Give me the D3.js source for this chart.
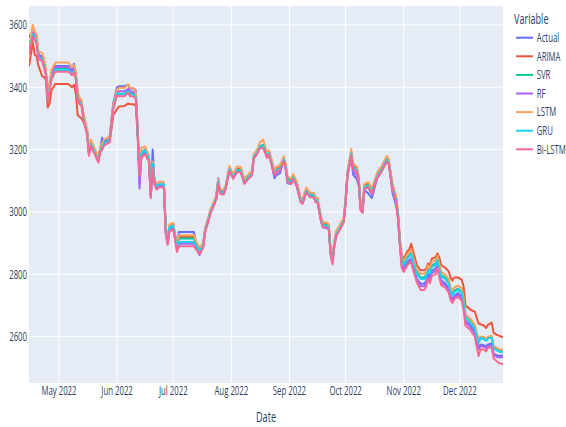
<!DOCTYPE html>
<html>
<head>
<meta charset="utf-8">
<script src="https://cdn.jsdelivr.net/npm/d3@7"></script>
<style>
  body { margin: 0; background: #fff; }
  svg { display: block; }
  text { font-family: "Open Sans", sans-serif; fill: #2a3f5f; }
</style>
</head>
<body>
<svg id="chart" width="566" height="427"></svg>
<script>
// Trading dates (one row per chunk = roughly one month)
const dates = [
  "2022-04-15","2022-04-17","2022-04-18","2022-04-19","2022-04-20","2022-04-22","2022-04-23","2022-04-24","2022-04-25","2022-04-26","2022-04-27","2022-04-29",
  "2022-05-06","2022-05-08","2022-05-09","2022-05-10","2022-05-11","2022-05-12","2022-05-13","2022-05-14","2022-05-16","2022-05-17","2022-05-18","2022-05-20","2022-05-22","2022-05-23","2022-05-24","2022-05-25","2022-05-26","2022-05-28","2022-05-29","2022-05-30",
  "2022-06-01","2022-06-02","2022-06-05","2022-06-07","2022-06-08","2022-06-10","2022-06-11","2022-06-12","2022-06-13","2022-06-14","2022-06-16","2022-06-18","2022-06-19","2022-06-20","2022-06-21","2022-06-22","2022-06-24","2022-06-26","2022-06-27","2022-06-28","2022-06-29","2022-07-01","2022-07-03",
  "2022-07-04","2022-07-12","2022-07-13","2022-07-15","2022-07-17","2022-07-18","2022-07-20","2022-07-21","2022-07-22","2022-07-24","2022-07-25","2022-07-26","2022-07-28","2022-07-29","2022-07-31",
  "2022-08-02","2022-08-04","2022-08-06","2022-08-08","2022-08-10","2022-08-12","2022-08-13","2022-08-15","2022-08-16","2022-08-18","2022-08-20","2022-08-21","2022-08-22","2022-08-24","2022-08-25","2022-08-27","2022-08-29","2022-08-30","2022-08-31",
  "2022-09-02","2022-09-03","2022-09-05","2022-09-07","2022-09-08","2022-09-10","2022-09-12","2022-09-14","2022-09-15","2022-09-16","2022-09-18","2022-09-19","2022-09-21","2022-09-22","2022-09-23","2022-09-24","2022-09-25","2022-09-26","2022-09-28","2022-09-30",
  "2022-10-01","2022-10-02","2022-10-04","2022-10-05","2022-10-07","2022-10-08","2022-10-09","2022-10-10","2022-10-11","2022-10-13","2022-10-15","2022-10-17","2022-10-18","2022-10-20","2022-10-22","2022-10-23","2022-10-24","2022-10-26","2022-10-28","2022-10-29","2022-10-30","2022-10-31",
  "2022-11-01","2022-11-03","2022-11-04","2022-11-05","2022-11-06","2022-11-08","2022-11-10","2022-11-12","2022-11-13","2022-11-14","2022-11-15","2022-11-16","2022-11-18","2022-11-19","2022-11-20","2022-11-21","2022-11-23","2022-11-25","2022-11-26","2022-11-27","2022-11-28","2022-11-30",
  "2022-12-02","2022-12-03","2022-12-04","2022-12-06","2022-12-07","2022-12-09","2022-12-10","2022-12-11","2022-12-12","2022-12-14","2022-12-15","2022-12-16","2022-12-18","2022-12-19","2022-12-21","2022-12-22","2022-12-24"
];

const actual = [
  3560,3578,3565,3556,3505,3498,3478,3452,3370,3410,3445,3468,
  3468,3452,3475,3440,3375,3358,3352,3310,3258,3192,3225,3198,3165,3200,3238,3225,3228,3234,3295,3350,
  3400,3403,3403,3408,3396,3396,3390,3260,3090,3190,3200,3170,3050,3200,3095,3078,3085,3082,2935,2900,2945,2950,2880,
  2936,2936,2905,2870,2892,2940,2982,3005,3015,3050,3108,3062,3058,3078,3142,
  3110,3128,3128,3093,3110,3122,3178,3195,3210,3215,3180,3190,3170,3108,3118,3125,3170,3140,3092,
  3090,3108,3082,3032,3028,3066,3050,3050,3033,3032,2968,2950,2948,2945,2868,2845,2895,2928,2948,2970,
  3040,3130,3185,3120,3105,3085,3010,3000,3070,3060,3045,3090,3110,3128,3155,3170,3160,3062,3020,2980,2895,2830,
  2818,2840,2845,2850,2825,2785,2770,2770,2778,2800,2790,2812,2818,2835,2805,2780,2772,2755,2730,2720,2732,2740,
  2730,2700,2650,2640,2632,2615,2585,2565,2575,2572,2568,2575,2578,2545,2540,2538,2540
];

const arima = [
  3468,3545,3505,3500,3470,3436,3432,3425,3335,3348,3390,3410,
  3410,3400,3408,3380,3310,3305,3300,3290,3262,3200,3215,3192,3170,3195,3205,3215,3220,3225,3265,3310,
  3330,3338,3340,3348,3345,3345,3340,3250,3120,3180,3190,3175,3070,3140,3100,3085,3090,3088,2950,2912,2955,2958,2890,
  2920,2920,2905,2880,2900,2945,2985,3008,3018,3048,3095,3068,3068,3082,3138,
  3116,3138,3138,3100,3115,3126,3178,3195,3210,3213,3183,3190,3172,3128,3138,3142,3168,3148,3106,
  3100,3116,3090,3042,3036,3072,3056,3056,3040,3040,2978,2962,2962,2955,2880,2855,2903,2935,2956,2978,
  3035,3115,3180,3150,3140,3108,3020,3010,3085,3090,3070,3108,3124,3140,3162,3172,3165,3085,3045,2992,2910,2860,
  2850,2875,2880,2898,2875,2830,2813,2813,2818,2835,2830,2850,2855,2867,2855,2830,2822,2810,2790,2780,2790,2790,
  2782,2760,2700,2690,2685,2680,2660,2642,2640,2635,2628,2638,2645,2612,2605,2603,2598
];

const svr = [
  3522,3572,3562,3552,3500,3495,3473,3448,3365,3400,3436,3460,
  3460,3448,3458,3436,3371,3355,3351,3307,3254,3190,3222,3195,3167,3199,3210,3222,3226,3232,3287,3339,
  3382,3380,3378,3392,3380,3378,3370,3260,3125,3185,3195,3170,3055,3150,3095,3080,3088,3085,2940,2905,2950,2955,2885,
  2915,2915,2900,2875,2895,2942,2984,3006,3017,3049,3100,3065,3065,3081,3140,
  3113,3135,3135,3097,3113,3124,3178,3195,3210,3215,3180,3190,3170,3124,3135,3140,3170,3146,3103,
  3097,3113,3087,3038,3033,3070,3054,3054,3038,3038,2974,2958,2958,2952,2872,2845,2899,2931,2952,2974,
  3038,3124,3190,3146,3135,3103,3017,3006,3081,3087,3065,3103,3119,3135,3158,3170,3160,3080,3040,2985,2899,2845,
  2834,2856,2861,2872,2845,2807,2790,2790,2797,2818,2807,2829,2834,2850,2823,2797,2791,2775,2748,2738,2748,2754,
  2745,2715,2665,2652,2645,2630,2605,2585,2595,2592,2588,2595,2598,2565,2558,2555,2555
];

const rf = [
  3530,3575,3563,3554,3502,3496,3476,3450,3368,3404,3440,3465,
  3465,3450,3460,3438,3373,3357,3352,3308,3255,3188,3220,3193,3163,3196,3208,3220,3224,3230,3285,3338,
  3388,3387,3387,3395,3387,3385,3378,3255,3075,3182,3192,3165,3048,3145,3090,3075,3083,3080,2932,2898,2942,2948,2878,
  2898,2898,2888,2862,2888,2938,2980,3002,3013,3045,3098,3060,3058,3076,3135,
  3108,3130,3130,3092,3108,3120,3173,3190,3205,3210,3176,3186,3165,3115,3128,3133,3165,3140,3097,
  3092,3108,3082,3033,3028,3065,3050,3050,3033,3033,2970,2953,2953,2947,2866,2840,2894,2926,2947,2969,
  3034,3120,3180,3130,3118,3092,3005,2998,3075,3078,3058,3097,3113,3130,3153,3165,3155,3075,3030,2978,2892,2825,
  2812,2835,2840,2845,2820,2780,2762,2762,2770,2792,2782,2805,2810,2828,2800,2772,2765,2750,2725,2715,2727,2735,
  2725,2695,2645,2635,2628,2610,2580,2560,2570,2568,2563,2570,2572,2540,2535,2533,2535
];

const lstm = [
  3525,3600,3580,3570,3515,3510,3490,3462,3375,3415,3455,3479,
  3479,3465,3470,3450,3385,3365,3360,3318,3265,3205,3232,3205,3175,3208,3220,3232,3236,3242,3295,3345,
  3392,3398,3398,3410,3398,3395,3385,3270,3140,3205,3210,3180,3065,3162,3105,3090,3098,3095,2950,2915,2960,2965,2895,
  2925,2925,2908,2885,2902,2948,2990,3012,3023,3055,3105,3072,3072,3088,3148,
  3120,3145,3145,3105,3120,3132,3185,3203,3222,3232,3190,3198,3180,3132,3145,3150,3178,3155,3112,
  3106,3122,3096,3046,3042,3078,3062,3062,3046,3046,2982,2966,2966,2960,2880,2855,2908,2940,2960,2982,
  3045,3132,3202,3155,3145,3112,3025,3015,3090,3096,3075,3112,3128,3145,3168,3180,3170,3090,3050,2995,2908,2855,
  2842,2865,2870,2880,2855,2815,2802,2802,2808,2828,2818,2840,2845,2860,2835,2808,2800,2785,2758,2748,2758,2764,
  2755,2725,2672,2660,2655,2638,2612,2592,2600,2598,2594,2600,2603,2570,2563,2560,2558
];

const gru = [
  3515,3568,3558,3548,3496,3490,3468,3443,3360,3395,3430,3455,
  3455,3443,3452,3430,3366,3350,3346,3303,3250,3185,3218,3190,3162,3195,3205,3218,3222,3228,3282,3334,
  3380,3377,3377,3388,3377,3376,3368,3258,3120,3188,3198,3172,3058,3155,3098,3082,3090,3088,2942,2908,2952,2956,2888,
  2904,2904,2895,2873,2893,2940,2982,3004,3015,3047,3098,3063,3062,3079,3138,
  3111,3133,3133,3095,3111,3122,3176,3193,3208,3213,3178,3188,3168,3122,3133,3138,3168,3144,3101,
  3095,3111,3085,3036,3031,3068,3052,3052,3036,3036,2972,2956,2956,2950,2870,2843,2897,2929,2950,2972,
  3036,3122,3188,3144,3133,3101,3015,3004,3079,3085,3063,3101,3117,3133,3156,3168,3158,3078,3038,2983,2897,2842,
  2830,2852,2857,2866,2840,2802,2785,2785,2792,2813,2802,2824,2829,2845,2818,2792,2786,2770,2744,2734,2744,2750,
  2742,2712,2662,2650,2642,2626,2600,2580,2597,2592,2587,2595,2597,2562,2555,2552,2550
];

const biLstm = [
  3505,3562,3552,3542,3490,3485,3462,3438,3355,3390,3425,3450,
  3450,3438,3448,3425,3360,3345,3342,3298,3245,3180,3212,3186,3158,3190,3200,3212,3217,3223,3278,3330,
  3374,3371,3371,3382,3371,3370,3362,3250,3115,3175,3185,3162,3045,3140,3088,3072,3080,3078,2930,2895,2938,2945,2872,
  2890,2890,2882,2865,2885,2934,2976,2998,3010,3042,3092,3058,3056,3074,3132,
  3106,3128,3128,3090,3106,3117,3171,3188,3203,3206,3173,3183,3163,3117,3128,3133,3163,3139,3096,
  3090,3106,3080,3031,3026,3063,3047,3047,3031,3031,2966,2950,2950,2944,2862,2832,2890,2922,2944,2966,
  3030,3116,3182,3138,3128,3096,3008,2998,3074,3080,3058,3096,3112,3128,3150,3162,3152,3072,3030,2975,2888,2820,
  2808,2830,2835,2840,2815,2775,2750,2750,2760,2785,2772,2795,2800,2820,2790,2765,2758,2742,2718,2708,2720,2728,
  2715,2685,2635,2625,2618,2600,2565,2538,2560,2558,2553,2565,2565,2530,2520,2515,2512
];

const seriesNames = ["Actual", "ARIMA", "SVR", "RF", "LSTM", "GRU", "Bi-LSTM"];
const seriesValues = [actual, arima, svr, rf, lstm, gru, biLstm];
const seriesColors = ["#636efa", "#EF553B", "#00cc96", "#ab63fa", "#FFA15A", "#19d3f3", "#FF6692"];
const yTicks = [2600, 2800, 3000, 3200, 3400, 3600];

// ---- layout ----
const W = 566, H = 427;
const margin = { left: 29, right: 63, top: 6, bottom: 44 };
const plotW = W - margin.left - margin.right;
const plotH = H - margin.top - margin.bottom;
const textSqueeze = 0.65;   // narrow lettering

const svg = d3.select("#chart");
const parse = d3.utcParse("%Y-%m-%d");
const dateObjs = dates.map(parse);

const x = d3.scaleUtc()
  .domain(d3.extent(dateObjs))
  .range([margin.left, margin.left + plotW]);

// y range keeps a 5% pad of the plot height above and below the data
const allVals = seriesValues.flat();
const pad = plotH * 0.05;
const y = d3.scaleLinear()
  .domain(d3.extent(allVals))
  .range([margin.top + plotH - pad, margin.top + pad]);

function squeezedText(parent, px, py, str, opts) {
  return parent.append("text")
    .attr("transform", `translate(${px},${py}) scale(${textSqueeze},1)`)
    .attr("text-anchor", opts.anchor || "start")
    .style("font-size", (opts.size || 12) + "px")
    .text(str);
}

// plot background
svg.append("rect")
  .attr("x", margin.left).attr("y", margin.top)
  .attr("width", plotW).attr("height", plotH)
  .attr("fill", "#E5ECF6");

// gridlines
const monthTicks = x.ticks(d3.utcMonth.every(1));
svg.append("g").selectAll("line").data(monthTicks).join("line")
  .attr("x1", d => x(d)).attr("x2", d => x(d))
  .attr("y1", margin.top).attr("y2", margin.top + plotH)
  .attr("stroke", "#fff").attr("stroke-width", 1);
svg.append("g").selectAll("line").data(yTicks).join("line")
  .attr("x1", margin.left).attr("x2", margin.left + plotW)
  .attr("y1", d => y(d)).attr("y2", d => y(d))
  .attr("stroke", "#fff").attr("stroke-width", 1);

// axis labels
const fmtMonth = d3.utcFormat("%b %Y");
const axisG = svg.append("g");
monthTicks.forEach(d => squeezedText(axisG, x(d), 395, fmtMonth(d), { anchor: "middle" }));
yTicks.forEach(v => squeezedText(axisG, margin.left - 2, y(v) + 4.3, String(v), { anchor: "end" }));
squeezedText(axisG, margin.left + plotW / 2, 422, "Date", { anchor: "middle", size: 14 });

// series lines
svg.append("clipPath").attr("id", "plotClip").append("rect")
  .attr("x", margin.left).attr("y", margin.top)
  .attr("width", plotW).attr("height", plotH);

const line = d3.line()
  .x((d, i) => x(dateObjs[i]))
  .y(d => y(d));

const linesG = svg.append("g").attr("clip-path", "url(#plotClip)");
seriesValues.forEach((vals, k) => {
  linesG.append("path")
    .datum(vals)
    .attr("fill", "none")
    .attr("stroke", seriesColors[k])
    .attr("stroke-width", 2)
    .attr("stroke-linejoin", "round")
    .attr("d", line);
});

// legend
const legend = svg.append("g");
squeezedText(legend, 514, 24, "Variable", { size: 14 });
seriesNames.forEach((name, i) => {
  const ly = 37.7 + i * 18.6;
  legend.append("line")
    .attr("x1", 516).attr("x2", 533)
    .attr("y1", ly).attr("y2", ly)
    .attr("stroke", seriesColors[i]).attr("stroke-width", 2);
  squeezedText(legend, 536.7, ly + 4.3, name, {});
});
</script>
</body>
</html>
